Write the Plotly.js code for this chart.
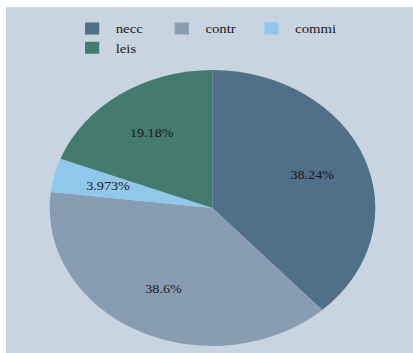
<!DOCTYPE html>
<html>
<head>
<meta charset="utf-8">
<script src="https://cdn.plot.ly/plotly-3.0.1.min.js"></script>
<style>
  html, body { margin: 0; padding: 0; background: #ffffff; overflow: hidden; }
  #chart { position: absolute; left: 6px; top: 7px; width: 345px; height: 346px;
           transform-origin: 0 0; transform: scaleX(1.18); }
</style>
</head>
<body>
<div id="chart"></div>
<script>
const labels = ["necc", "contr", "commi", "leis"];
const values = [38.24, 38.6, 3.973, 19.18];
const colors = ["#4f7087", "#899db2", "#8fc8eb", "#437b6f"];

const serif = "'Liberation Serif', 'Times New Roman', Times, serif";

const trace = {
  type: "pie",
  labels: labels,
  values: values,
  sort: false,
  direction: "clockwise",
  rotation: 0,
  marker: { colors: colors, line: { width: 0 } },
  textinfo: "none",
  hoverinfo: "none"
};

// slice labels placed along each slice's mid-angle, derived from the data
const total = values.reduce((a, b) => a + b, 0);
const labelRadius = 0.66;  // fraction of pie radius
let cum = 0;
const annotations = values.map(v => {
  const mid = (cum + v / 2) / total * 2 * Math.PI;
  cum += v;
  return {
    xref: "paper", yref: "paper",
    x: 0.5 + 0.5 * labelRadius * Math.sin(mid),
    y: 0.5 + 0.5 * labelRadius * Math.cos(mid),
    text: v + "%",
    showarrow: false,
    xanchor: "center", yanchor: "middle",
    font: { family: serif, size: 12, color: "#1a1a1a" }
  };
});

const layout = {
  width: 345,
  height: 346,
  paper_bgcolor: "#c8d4e0",
  margin: { l: 37, r: 32, t: 63, b: 7 },
  showlegend: true,
  annotations: annotations,
  legend: {
    orientation: "h",
    x: 0.058, xanchor: "left",
    y: 1.203, yanchor: "top",
    entrywidth: 31,
    entrywidthmode: "pixels",
    bgcolor: "rgba(0,0,0,0)",
    font: { family: serif, size: 12.5, color: "#1a1a1a" }
  }
};

Plotly.newPlot("chart", [trace], layout, { staticPlot: true, displayModeBar: false });
</script>
</body>
</html>
